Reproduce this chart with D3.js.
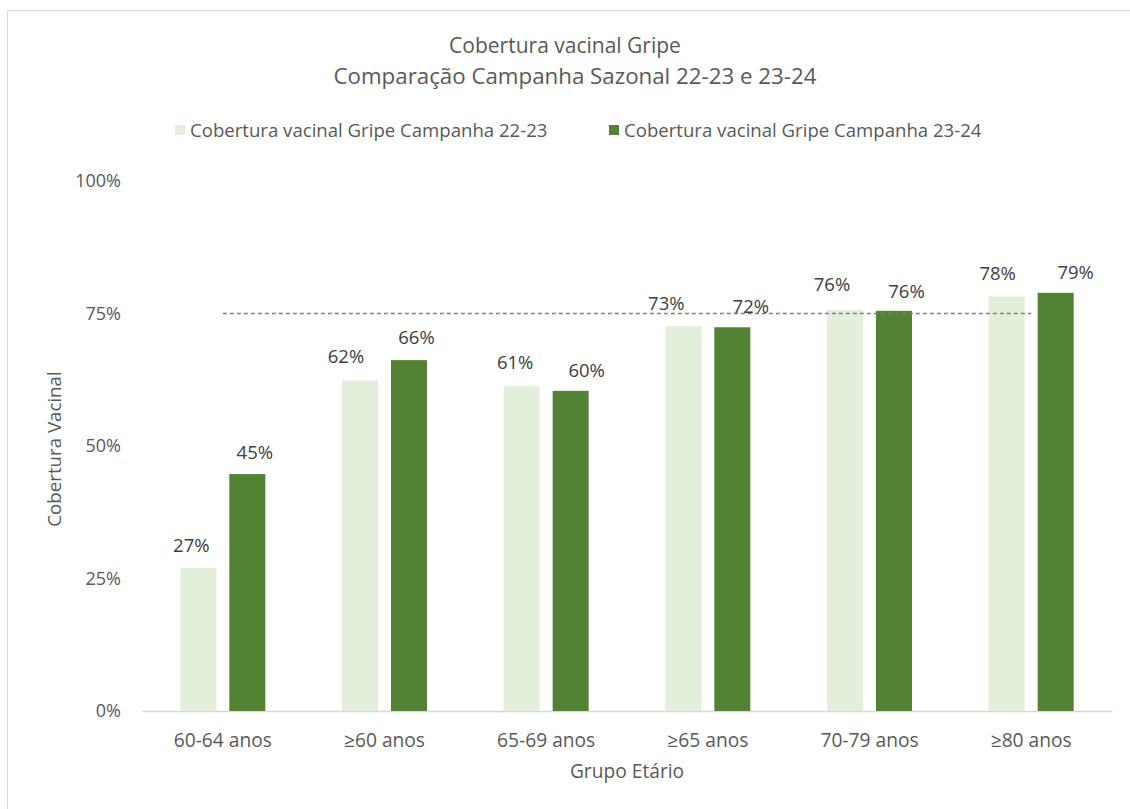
<!DOCTYPE html>
<html><head><meta charset="utf-8">
<script src="https://cdn.jsdelivr.net/npm/d3@7"></script>
<style>body{margin:0;background:#fff;}svg{display:block;font-family:"Open Sans",sans-serif;}</style>
</head><body>
<svg id="c" width="1130" height="809"></svg>
<script>
const categories = ["60-64 anos","≥60 anos","65-69 anos","≥65 anos","70-79 anos","≥80 anos"];
const series2223 = [0.27,0.624,0.613,0.726,0.757,0.782];
const series2324 = [0.447,0.662,0.604,0.724,0.755,0.789];
const seriesNames = ["Cobertura vacinal Gripe Campanha 22-23","Cobertura vacinal Gripe Campanha 23-24"];
const yTicks = [0,0.25,0.5,0.75,1];
const target = 0.75;

// styling / layout (not data)
const colors = ["#E2EFDA","#548235"];
const labelNudgeX = [[-7,-14,-6.5,-17,-13,-9],[7.5,7.5,16,18.5,12.5,20]];
const labelNudgeY = [[-23,-23.5,-23.5,-22.5,-25,-23],[-22,-23,-20.5,-20.5,-20,-20.5]];

const svg = d3.select("#c");
svg.append("line").attr("x1",7.5).attr("x2",1130).attr("y1",10.5).attr("y2",10.5).attr("stroke","#d9d9d9");
svg.append("line").attr("x1",7.5).attr("x2",7.5).attr("y1",10.5).attr("y2",809).attr("stroke","#d9d9d9");

const x0 = d3.scaleBand().domain(categories).range([142,1112]).paddingInner(0).paddingOuter(0);
const y = d3.scaleLinear().domain([0,1]).range([711,181]);
const bw = 36, gap = 13;
const x1 = d3.scaleOrdinal().domain([0,1]).range([-(gap/2+bw), gap/2]);

const title = svg.append("text").attr("text-anchor","middle").attr("fill","#595959");
title.append("tspan").attr("x",565).attr("y",52.5).attr("font-size",21).text("Cobertura vacinal Gripe");
title.append("tspan").attr("x",575).attr("y",84).attr("font-size",22.3).text("Comparação Campanha Sazonal 22-23 e 23-24");

const legX = [175,609];
seriesNames.forEach((n,i)=>{
  svg.append("rect").attr("x",legX[i]).attr("y",125).attr("width",10).attr("height",10).attr("fill",colors[i]);
  svg.append("text").attr("x",legX[i]+15).attr("y",136.5).attr("font-size",18.6).attr("fill","#595959").text(n);
});

const yAxis = d3.axisLeft(y).tickValues(yTicks).tickFormat(d3.format(".0%")).tickSize(0).tickPadding(0);
const ga = svg.append("g").attr("transform","translate(121,0)").call(yAxis);
ga.select(".domain").remove();
ga.selectAll("text").attr("font-size",18).attr("fill","#595959").attr("font-family","Open Sans");

const xAxis = d3.axisBottom(x0).tickSize(0).tickPadding(22);
const gx = svg.append("g").attr("transform","translate(0,711)").call(xAxis);
gx.select(".domain").attr("stroke","#d9d9d9").attr("stroke-width",1.5);
gx.selectAll("text").attr("font-size",19.2).attr("fill","#595959").attr("font-family","Open Sans");

const data = [series2223, series2324];
data.forEach((vals,si)=>{
  svg.append("g").selectAll("rect").data(vals).join("rect")
    .attr("x",(d,i)=>x0(categories[i])+x0.bandwidth()/2+x1(si))
    .attr("y",d=>y(d)).attr("width",bw).attr("height",d=>y(0)-y(d))
    .attr("fill",colors[si]);
});

svg.append("line")
  .attr("x1",x0(categories[0])+x0.bandwidth()/2)
  .attr("x2",x0(categories[categories.length-1])+x0.bandwidth()/2)
  .attr("y1",y(target)).attr("y2",y(target))
  .attr("stroke","#7f7f7f").attr("stroke-width",1.3).attr("stroke-dasharray","4,3");

data.forEach((vals,si)=>{
  svg.append("g").selectAll("text").data(vals).join("text")
    .attr("x",(d,i)=>x0(categories[i])+x0.bandwidth()/2+x1(si)+bw/2+labelNudgeX[si][i])
    .attr("y",(d,i)=>y(d)+labelNudgeY[si][i])
    .attr("dy","0.36em")
    .attr("text-anchor","middle").attr("font-size",18.5).attr("fill","#404040")
    .text(d=>d3.format(".0%")(d));
});

svg.append("text").attr("x",627).attr("y",778).attr("text-anchor","middle").attr("font-size",19.2).attr("fill","#595959").text("Grupo Etário");
svg.append("text").attr("transform","translate(61,449) rotate(-90)").attr("text-anchor","middle").attr("font-size",18.7).attr("fill","#595959").text("Cobertura Vacinal");
</script>
</body></html>
